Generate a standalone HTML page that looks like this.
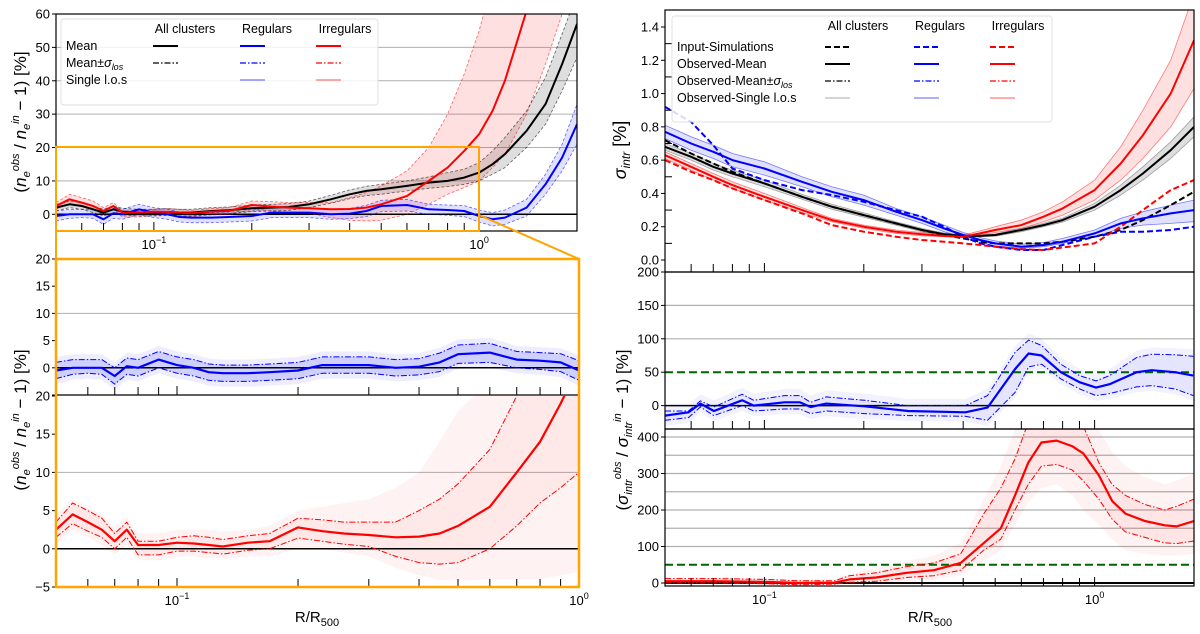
<!DOCTYPE html>
<html><head><meta charset="utf-8"><style>
body{margin:0;background:#fff}
svg{display:block;font-family:"Liberation Sans","DejaVu Sans",sans-serif}
</style></head><body>
<svg id="fig" width="1200" height="634" viewBox="0 0 1200 634" xmlns="http://www.w3.org/2000/svg">
<defs id="defs"></defs>
<g id="root"></g>
</svg>
<script>
// ---------- DATA: left panels (n_e ratio, %) ----------
const rN = [0.05,0.055,0.06,0.065,0.07,0.075,0.08,0.09,0.1,0.11,0.12,0.13,0.15,0.17,0.2,0.23,0.26,0.3,0.35,0.4,0.45,0.5,0.6,0.7,0.8,0.9,1.0,1.1,1.2,1.4,1.6,1.8,2.0];
const allMean = [2,3,2.5,1.5,0.5,1.5,0.8,0.5,0.5,0.7,0.5,0.5,1,1.2,1.8,2,2.2,3,4.5,6,7,7.5,8.5,9.5,10,11,12.5,15,18,25,33,45,57];
const allLo   = [1,2,1.5,0.5,-0.5,0.5,-0.2,-0.5,-0.5,-0.3,-0.5,-0.5,0,0.2,0.8,1,1.2,2,3.3,4.7,5.6,6,7,7.8,8.3,9,10,12,14,20,27,37,47];
const allHi   = [3,4,3.5,2.5,1.5,2.5,1.8,1.5,1.5,1.7,1.5,1.5,2,2.2,2.8,3,3.2,4,5.7,7.3,8.4,9,10,11.2,12.5,13.5,15.5,19,23,31,41,54,66];
const regMean = [-0.5,0,0,0,-1.5,0.3,0,1.5,0.5,0,-0.8,-1,-1,-0.8,-0.5,0.5,0.5,0.5,0,0.2,1,2.5,2.8,1.5,1.3,1,-0.5,-1.5,-1,2,9,17,27];
const regLo   = [-2,-1.2,-1,-1.2,-3,-1.2,-1.5,0,-1,-1.5,-2.3,-2.5,-2.5,-2.3,-2,-1,-1,-1,-1.5,-1.3,-0.7,0.8,1,0,-0.3,-0.7,-2.3,-3.5,-3,-0.5,6,13,21];
const regHi   = [1,1.5,1.5,1.5,0,1.8,1.5,3,2,1.5,0.7,0.5,0.5,0.7,1,2,2,2,1.5,1.7,2.7,4.2,4.5,3,2.8,2.6,1.3,0.5,1.3,4.5,12,21,33];
const irrMean = [2.5,4.5,3.5,2.5,1,2.5,0.5,0.5,0.8,0.7,0.5,0.3,0.8,1,2.8,2.3,2,1.8,1.5,1.6,2,3,5.5,10,14,19,24,31,40,61,85,110,135];
const irrLo   = [1.5,3.3,2.3,1.5,0,1.5,-0.8,-0.8,-0.3,-0.3,-0.5,-0.7,-0.2,0,1.4,1,0.6,0.3,-1,-1.8,-2,-1.8,0,3,6,8,10,14,18,30,45,60,75];
const irrHi   = [3.5,6,5,4,2,3.5,1,1,1.5,1.7,1.5,1.2,1.7,2,4,3.8,3.5,3.5,3.5,5,6.5,8.5,13,20,30,42,55,70,85,110,140,170,200];
const irrEnvLo= [0.5,2.5,1.5,0.5,-0.8,0.5,-1.5,-1.5,-1,-1,-1.2,-1.3,-1,-1,0,0,-0.5,-1,-2.5,-3.5,-4,-4.2,-4,-4,-4,-3.5,-3,-2,0,5,15,25,35];
const irrEnvHi= [4.5,6.5,5.5,4.5,2.8,4.2,2,2,2.5,2.5,2.5,2.3,2.5,3,5,5.5,6,6.5,8,10,14,18,22,28,35,42,50,60,70,90,110,130,150];

// ---------- DATA: right top (sigma_intr) ----------
const rS = [0.05,0.06,0.07,0.08,0.1,0.13,0.16,0.2,0.25,0.3,0.35,0.4,0.45,0.5,0.6,0.7,0.8,1.0,1.2,1.4,1.7,2.0];
const sAllObs = [0.68,0.62,0.56,0.52,0.46,0.38,0.32,0.27,0.22,0.18,0.155,0.145,0.145,0.15,0.18,0.21,0.24,0.32,0.42,0.52,0.66,0.8];
const sAllLo  = [0.66,0.60,0.54,0.50,0.44,0.365,0.305,0.257,0.21,0.17,0.148,0.14,0.14,0.143,0.17,0.2,0.228,0.3,0.39,0.48,0.61,0.74];
const sAllHi  = [0.70,0.64,0.58,0.54,0.48,0.395,0.335,0.283,0.23,0.19,0.162,0.15,0.15,0.157,0.19,0.22,0.252,0.34,0.45,0.56,0.71,0.86];
const sAllIn  = [0.72,0.64,0.58,0.53,0.46,0.38,0.32,0.27,0.22,0.18,0.15,0.13,0.11,0.1,0.1,0.1,0.11,0.14,0.18,0.24,0.33,0.41];
const sRegObs = [0.77,0.7,0.65,0.6,0.55,0.47,0.41,0.36,0.29,0.24,0.19,0.15,0.12,0.1,0.08,0.09,0.11,0.16,0.22,0.25,0.28,0.3];
const sRegLo  = [0.73,0.66,0.61,0.56,0.51,0.44,0.38,0.33,0.27,0.22,0.17,0.135,0.105,0.085,0.07,0.08,0.1,0.14,0.19,0.21,0.22,0.23];
const sRegHi  = [0.81,0.74,0.69,0.64,0.59,0.5,0.44,0.39,0.31,0.26,0.21,0.165,0.135,0.115,0.095,0.105,0.13,0.18,0.25,0.29,0.33,0.36];
const sRegIn  = [0.92,0.83,0.69,0.55,0.48,0.42,0.39,0.35,0.3,0.26,0.2,0.14,0.1,0.08,0.06,0.06,0.09,0.14,0.17,0.17,0.18,0.2];
const sIrrObs = [0.63,0.56,0.5,0.45,0.38,0.3,0.24,0.2,0.17,0.155,0.145,0.14,0.16,0.18,0.21,0.26,0.31,0.42,0.58,0.75,1.0,1.32];
const sIrrLo  = [0.61,0.54,0.48,0.43,0.36,0.285,0.23,0.19,0.16,0.145,0.14,0.135,0.15,0.165,0.19,0.23,0.27,0.36,0.48,0.61,0.8,1.03];
const sIrrHi  = [0.65,0.58,0.52,0.47,0.4,0.315,0.25,0.21,0.18,0.165,0.155,0.15,0.175,0.2,0.24,0.29,0.35,0.48,0.68,0.9,1.2,1.6];
const sIrrIn  = [0.6,0.53,0.48,0.43,0.36,0.28,0.21,0.17,0.14,0.12,0.11,0.1,0.09,0.08,0.065,0.06,0.075,0.1,0.2,0.3,0.42,0.48];

// ---------- DATA: right middle (regular sigma ratio, %) ----------
const rB = [0.05,0.0589,0.064,0.0703,0.0856,0.0928,0.115,0.128,0.138,0.154,0.201,0.272,0.406,0.474,0.575,0.631,0.691,0.79,0.9,1.01,1.11,1.34,1.49,1.75,1.99];
const bMean = [-15,-10,3,-8,8,0,5,5,-2,3,-1,-8,-10,-3,55,78,75,50,35,27,32,50,53,50,45];
const bHi   = [-8,-8,7,-2,17,8,15,15,5,13,8,0,0,15,80,98,90,62,45,37,45,72,77,76,74];
const bLo   = [-22,-18,-2,-15,0,-8,-5,-5,-12,-8,-12,-15,-16,-22,20,58,62,40,25,15,18,28,30,25,15];

// ---------- DATA: right bottom (irregular sigma ratio, %) ----------
const rR = [0.05,0.071,0.1006,0.1276,0.163,0.181,0.218,0.27,0.326,0.393,0.462,0.52,0.574,0.63,0.69,0.768,0.854,0.924,1.03,1.13,1.24,1.42,1.63,1.77,2.0];
const rMean = [5,5,3,0,1,10,15,28,35,55,110,150,240,330,385,390,375,355,295,225,190,170,158,155,170];
const rHi   = [12,12,10,6,6,20,28,45,55,80,190,260,340,440,480,480,470,430,330,270,240,215,200,210,230];
const rLo   = [0,0,-2,-5,-3,2,5,15,20,35,90,120,200,270,320,325,310,280,230,175,140,125,110,108,115];
const rEnvLo= [-3,-3,-5,-8,-6,-2,0,5,10,20,60,90,160,220,260,270,240,200,160,120,90,80,75,75,80];
const rEnvHi= [15,15,13,9,10,25,40,60,75,110,230,320,420,480,500,500,480,460,420,360,320,290,270,280,300];

// ---------- helpers ----------
const NS='http://www.w3.org/2000/svg';
const root=document.getElementById('root');
const defs=document.getElementById('defs');
function el(tag,attrs,parent){const e=document.createElementNS(NS,tag);for(const k in attrs)e.setAttribute(k,attrs[k]);(parent||root).appendChild(e);return e;}
function logX(r0,r1,p0,p1){const a=Math.log10(r0),b=Math.log10(r1);return r=>p0+(Math.log10(r)-a)/(b-a)*(p1-p0);}
function linY(v0,v1,p0,p1){return v=>p0+(v-v0)/(v1-v0)*(p1-p0);}
function pts(xs,ys,X,Y,xmax){let o=[];for(let i=0;i<xs.length;i++){if(xmax&&xs[i]>xmax*1.0001)break;o.push(X(xs[i]).toFixed(1)+','+Y(ys[i]).toFixed(1));}return o;}
let clipN=0;
function panel(name,x0,y0,x1,y1){
  const id='clip'+(clipN++);
  const cp=el('clipPath',{id:id},defs);el('rect',{x:x0,y:y0,width:x1-x0,height:y1-y0},cp);
  const g=el('g',{'clip-path':'url(#'+id+')'});
  
  
  return g;
}
function line(g,name,xs,ys,X,Y,stroke,w,dash,op,xmax){
  const p=el('polyline',{points:pts(xs,ys,X,Y,xmax).join(' '),fill:'none',stroke:stroke,'stroke-width':w,'stroke-linejoin':'round','stroke-dasharray':dash||'none',opacity:op==null?1:op},g);
  
  
  return p;
}
function band(g,name,xs,lo,hi,X,Y,fill,op,xmax){
  const a=pts(xs,hi,X,Y,xmax),b=pts(xs,lo,X,Y,xmax).reverse();
  const p=el('polygon',{points:a.concat(b).join(' '),fill:fill,opacity:op,stroke:'none'},g);
  
  
}
function hgrid(g,vals,X0,X1,Y,color,w){vals.forEach(v=>{const l=el('line',{x1:X0,x2:X1,y1:Y(v),y2:Y(v),stroke:color,'stroke-width':w},g);});}
function yTicks(name,vals,labels,x0,Y,minor){
  const g=el('g',{});
  vals.forEach((v,i)=>{el('line',{x1:x0-4,x2:x0,y1:Y(v),y2:Y(v),stroke:'#000','stroke-width':1},g);
    const t=el('text',{x:x0-6,y:Y(v)+4.5,'text-anchor':'end','font-size':13},g);t.textContent=labels[i];});
  (minor||[]).forEach(v=>el('line',{x1:x0,x2:x0+7,y1:Y(v),y2:Y(v),stroke:'#000','stroke-width':1},g));
}
const minorR=[0.06,0.07,0.08,0.09,0.2,0.3,0.4,0.5,0.6,0.7,0.8,0.9,2];
function xTicks(name,X,ybot,rmax,labels){
  const g=el('g',{});
  minorR.concat([0.1,1]).forEach(r=>{if(r>rmax)return;const x=X(r);el('line',{x1:x,x2:x,y1:ybot,y2:ybot-(r==0.1||r==1?9:8),stroke:'#000','stroke-width':1},g);});
  if(labels){[[0.1,'−1'],[1,'0']].forEach(([r,e])=>{if(r>rmax)return;const t=el('text',{x:X(r),y:ybot+18,'text-anchor':'middle','font-size':13},g);
    t.innerHTML='10<tspan dy="-6" font-size="9">'+e+'</tspan>';});}
}
function frame(name,x0,y0,x1,y1,color,w){const r=el('rect',{x:x0,y:y0,width:x1-x0,height:y1-y0,fill:'none',stroke:color,'stroke-width':w});}

const BLUE='#0000ff',RED='#ff0000';

// ---------- Panel A: left top ----------
{const X=logX(0.05,2,56,577),Y=linY(60,-5,14,231);
 const g=panel('ne-overview',56,14,577,231);
 hgrid(g,[10,20,30,40,50],56,577,Y,'#b0b0b0',1);
 band(g,'irregular-band',rN,irrLo,irrHi,X,Y,'#ff0000',0.12);
 band(g,'all-band',rN,allLo,allHi,X,Y,'#000',0.13);
 band(g,'regular-band',rN,regLo,regHi,X,Y,'#0000ff',0.12);
 line(g,'zero-line',[0.05,2],[0,0],X,Y,'#000',1.5);
 [[irrLo,irrHi,RED],[allLo,allHi,'#000'],[regLo,regHi,BLUE]].forEach(([a,b,c])=>{line(g,'sigma-lo',rN,a,X,Y,c,0.8,'3,2',0.6);line(g,'sigma-hi',rN,b,X,Y,c,0.8,'3,2',0.6);});
 line(g,'all-mean',rN,allMean,X,Y,'#000',2);
 line(g,'regular-mean',rN,regMean,X,Y,BLUE,2);
 line(g,'irregular-mean',rN,irrMean,X,Y,RED,2);
 yTicks('y-axis-ticks',[0,10,20,30,40,50,60],['0','10','20','30','40','50','60'],56,Y);
 xTicks('x-axis-ticks',X,231,2,true);
 frame('axes-frame',56,14,577,231,'#000',1.2);
 frame('zoom-box',56,147,479,231,'#ffa500',2);
}
// legend left
{const g=el('g',{});
 el('rect',{x:61,y:19,width:317,height:86,fill:'#fff',opacity:0.85,stroke:'#ddd',rx:3},g);
 [['All clusters',185],['Regulars',267],['Irregulars',345]].forEach(([t,x])=>{const e=el('text',{x:x,y:33,'text-anchor':'middle','font-size':12.5},g);e.textContent=t;});
 const rows=[['Mean',46,'none',2,1],['Mean±σ',63,'6,2,1.5,2',1.2,1],['Single l.o.s',80,'none',1.5,0.45]];
 rows.forEach(([t,y,d,w,o],i)=>{const e=el('text',{x:66,y:y+4,'font-size':12.5},g);
   if(i==1){e.innerHTML='Mean±<tspan font-style="italic">σ</tspan><tspan font-style="italic" font-size="9" dy="3">los</tspan>';}else e.textContent=t;
   [[153,'#000'],[240,BLUE],[316,RED]].forEach(([x,c],j)=>{if(i==2&&j==0)return;const l=el('line',{x1:x,x2:x+25,y1:y,y2:y,stroke:c,'stroke-width':w,'stroke-dasharray':d,opacity:o},g);});});
}
// orange connectors
{const g=el('g',{});
 el('line',{x1:56,y1:231,x2:56,y2:259,stroke:'#ffa500','stroke-width':2},g);
 el('line',{x1:479,y1:215,x2:579,y2:259,stroke:'#ffa500','stroke-width':2},g);}

// ---------- Panel B: left middle (regulars) ----------
{const X=logX(0.05,1,56,579),Y=linY(20,-5,259,395);
 const g=panel('ne-regulars',56,259,579,395);
 hgrid(g,[10],56,579,Y,'#b0b0b0',1);
 band(g,'regular-los-spread',rN,regLo.map(v=>v-1),regHi.map(v=>v+1),X,Y,'#0000ff',0.07,1);
 band(g,'regular-band',rN,regLo,regHi,X,Y,'#0000ff',0.12,1);
 line(g,'zero-line',[0.05,1],[0,0],X,Y,'#000',1.5);
 line(g,'regular-lo',rN,regLo,X,Y,BLUE,1,'6,2,1.5,2',1,1);
 line(g,'regular-hi',rN,regHi,X,Y,BLUE,1,'6,2,1.5,2',1,1);
 line(g,'regular-mean',rN,regMean,X,Y,BLUE,2.2,null,1,1);
 yTicks('y-axis-ticks-mid',[-5,0,5,10,15,20],['','0','5','10','15','20'],56,Y);
 xTicks('x-ticks-mid',X,395,1,false);
 el('line',{x1:56,x2:579,y1:395,y2:395,stroke:'#000','stroke-width':1.2});
}
// ---------- Panel C: left bottom (irregulars) ----------
{const X=logX(0.05,1,56,579),Y=linY(20,-5,396,587);
 const g=panel('ne-irregulars',56,396,579,587);
 hgrid(g,[10],56,579,Y,'#b0b0b0',1);
 band(g,'irregular-los-spread',rN,irrEnvLo,irrEnvHi,X,Y,'#ff0000',0.05,1.1);
 band(g,'irregular-band',rN,irrLo,irrHi,X,Y,'#ff0000',0.04,1.1);
 line(g,'zero-line',[0.05,1],[0,0],X,Y,'#000',1.5);
 line(g,'irregular-lo',rN,irrLo,X,Y,RED,1,'6,2,1.5,2',1,1.1);
 line(g,'irregular-hi',rN,irrHi,X,Y,RED,1,'6,2,1.5,2',1,1.1);
 line(g,'irregular-mean',rN,irrMean,X,Y,RED,2.2,null,1,1.1);
 yTicks('y-axis-ticks-bot',[-5,0,5,10,15,20],['−5','0','5','10','15','20'],56,Y);
 xTicks('x-ticks-bot',X,587,1,true);
 frame('zoom-panel-frame',56,259,579,587,'#ffa500',2.5);
 const t=el('text',{x:317,y:622,'text-anchor':'middle','font-size':15});t.innerHTML='R/R<tspan font-size="11" dy="4">500</tspan>';
 
}
function ytitle(name,x,y,html,fs){const t=el('text',{x:0,y:0,transform:'translate('+x+','+y+') rotate(-90)','text-anchor':'middle','font-size':fs});t.innerHTML=html;}
const neLabel='(<tspan font-style="italic">n</tspan><tspan font-style="italic" font-size="11" dy="4">e</tspan><tspan font-style="italic" font-size="11" dy="-11">obs</tspan><tspan dy="7"> / </tspan><tspan font-style="italic">n</tspan><tspan font-style="italic" font-size="11" dy="4">e</tspan><tspan font-style="italic" font-size="11" dy="-11">in</tspan><tspan dy="7"> − 1) [%]</tspan>';
ytitle('y-axis-title-top-left',26,122,neLabel,17);
ytitle('y-axis-title-bottom-left',26,420,neLabel,17);

// ---------- Panel D: right top ----------
{const X=logX(0.05,2,665,1194),Y=linY(0,1.4,260,27);
 const g=panel('sigma-intr',665,10,1194,272);
 band(g,'irregular-band',rS,sIrrLo,sIrrHi,X,Y,'#ff0000',0.12);
 band(g,'all-band',rS,sAllLo,sAllHi,X,Y,'#000',0.13);
 band(g,'regular-band',rS,sRegLo,sRegHi,X,Y,'#0000ff',0.12);
 [[sIrrLo,sIrrHi,RED],[sAllLo,sAllHi,'#555'],[sRegLo,sRegHi,BLUE]].forEach(([a,b,c])=>{line(g,'sigma-lo',rS,a,X,Y,c,0.8,null,0.5);line(g,'sigma-hi',rS,b,X,Y,c,0.8,null,0.5);});
 line(g,'all-input',rS,sAllIn,X,Y,'#000',2,'6,3');
 line(g,'regular-input',rS,sRegIn,X,Y,BLUE,2,'6,3');
 line(g,'irregular-input',rS,sIrrIn,X,Y,RED,2,'6,3');
 line(g,'all-observed-mean',rS,sAllObs,X,Y,'#000',2);
 line(g,'regular-observed-mean',rS,sRegObs,X,Y,BLUE,2);
 line(g,'irregular-observed-mean',rS,sIrrObs,X,Y,RED,2);
 yTicks('y-axis-ticks-sigma',[0,0.2,0.4,0.6,0.8,1.0,1.2,1.4],['0.0','0.2','0.4','0.6','0.8','1.0','1.2','1.4'],665,Y,[0.1,0.3,0.5,0.7,0.9,1.1,1.3]);
 xTicks('x-ticks-sigma',X,272,2,false);
 frame('axes-frame-sigma',665,10,1194,272,'#000',1.2);
 ytitle('y-axis-title-sigma',626,150,'<tspan font-style="italic">σ</tspan><tspan font-style="italic" font-size="12" dy="4">intr</tspan><tspan dy="-4"> [%]</tspan>',18);
}
// legend right
{const g=el('g',{});
 el('rect',{x:672,y:16,width:380,height:106,fill:'#fff',opacity:0.85,stroke:'#ddd',rx:3},g);
 [['All clusters',858],['Regulars',940],['Irregulars',1018]].forEach(([t,x])=>{const e=el('text',{x:x,y:30,'text-anchor':'middle','font-size':12.5},g);e.textContent=t;});
 const rows=[['Input-Simulations',47,'6,3',2,1],['Observed-Mean',64,'none',2,1],['',81,'6,2,1.5,2',1.2,1],['Observed-Single l.o.s',98,'none',1.3,0.5]];
 rows.forEach(([t,y,d,w,o],i)=>{const e=el('text',{x:677,y:y+4,'font-size':12.5},g);
   if(i==2)e.innerHTML='Observed-Mean±<tspan font-style="italic">σ</tspan><tspan font-style="italic" font-size="9" dy="3">los</tspan>';else e.textContent=t;
   [[825,i==3?'#777':'#000'],[914,BLUE],[990,RED]].forEach(([x,c])=>{const l=el('line',{x1:x,x2:x+25,y1:y,y2:y,stroke:c,'stroke-width':w,'stroke-dasharray':d,opacity:o},g);});});
}
// ---------- Panel E: right middle ----------
{const X=logX(0.05,2,665,1194),Y=linY(200,-35,272,429);
 const g=panel('sigma-ratio-regulars',665,272,1194,429);
 hgrid(g,[100,150],665,1194,Y,'#b0b0b0',1.2);
 band(g,'regular-los-spread',rB,bLo.map(v=>v-8),bHi.map(v=>v+10),X,Y,'#0000ff',0.05);
 band(g,'regular-band',rB,bLo,bHi,X,Y,'#0000ff',0.05);
 line(g,'zero-line',[0.05,2],[0,0],X,Y,'#000',1.5);
 line(g,'threshold-50',[0.05,2],[50,50],X,Y,'#006400',2,'8,4');
 line(g,'regular-lo',rB,bLo,X,Y,BLUE,1,'6,2,1.5,2');
 line(g,'regular-hi',rB,bHi,X,Y,BLUE,1,'6,2,1.5,2');
 line(g,'regular-mean',rB,bMean,X,Y,BLUE,2.2);
 yTicks('y-axis-ticks-ratio-reg',[0,50,100,150,200],['0','50','100','150','200'],665,Y);
 xTicks('x-ticks-ratio-reg',X,429,2,false);
 frame('axes-frame-ratio-reg',665,272,1194,429,'#000',1.2);
}
// ---------- Panel F: right bottom ----------
{const X=logX(0.05,2,665,1194),Y=linY(0,400,583,437);
 const g=panel('sigma-ratio-irregulars',665,429,1194,586);
 hgrid(g,[100,150,200,250,300,350,400],665,1194,Y,'#b0b0b0',1.2);
 band(g,'irregular-los-spread',rR,rEnvLo,rEnvHi,X,Y,'#ff0000',0.05);
 band(g,'irregular-band',rR,rLo,rHi,X,Y,'#ff0000',0.05);
 line(g,'zero-line',[0.05,2],[0,0],X,Y,'#000',2);
 line(g,'threshold-50',[0.05,2],[50,50],X,Y,'#006400',2,'8,4');
 line(g,'irregular-lo',rR,rLo,X,Y,RED,1,'6,2,1.5,2');
 line(g,'irregular-hi',rR,rHi,X,Y,RED,1,'6,2,1.5,2');
 line(g,'irregular-mean',rR,rMean,X,Y,RED,2.2);
 yTicks('y-axis-ticks-ratio-irr',[0,100,200,300,400],['0','100','200','300','400'],665,Y);
 xTicks('x-ticks-ratio-irr',X,586,2,true);
 frame('axes-frame-ratio-irr',665,429,1194,586,'#000',1.2);
 const t=el('text',{x:930,y:622,'text-anchor':'middle','font-size':15});t.innerHTML='R/R<tspan font-size="11" dy="4">500</tspan>';
 
 ytitle('y-axis-title-ratio',628,430,'(<tspan font-style="italic">σ</tspan><tspan font-style="italic" font-size="11" dy="4">intr</tspan><tspan font-style="italic" font-size="11" dy="-11">obs</tspan><tspan dy="7"> / </tspan><tspan font-style="italic">σ</tspan><tspan font-style="italic" font-size="11" dy="4">intr</tspan><tspan font-style="italic" font-size="11" dy="-11">in</tspan><tspan dy="7"> − 1) [%]</tspan>',17);
}
</script>
</body></html>
